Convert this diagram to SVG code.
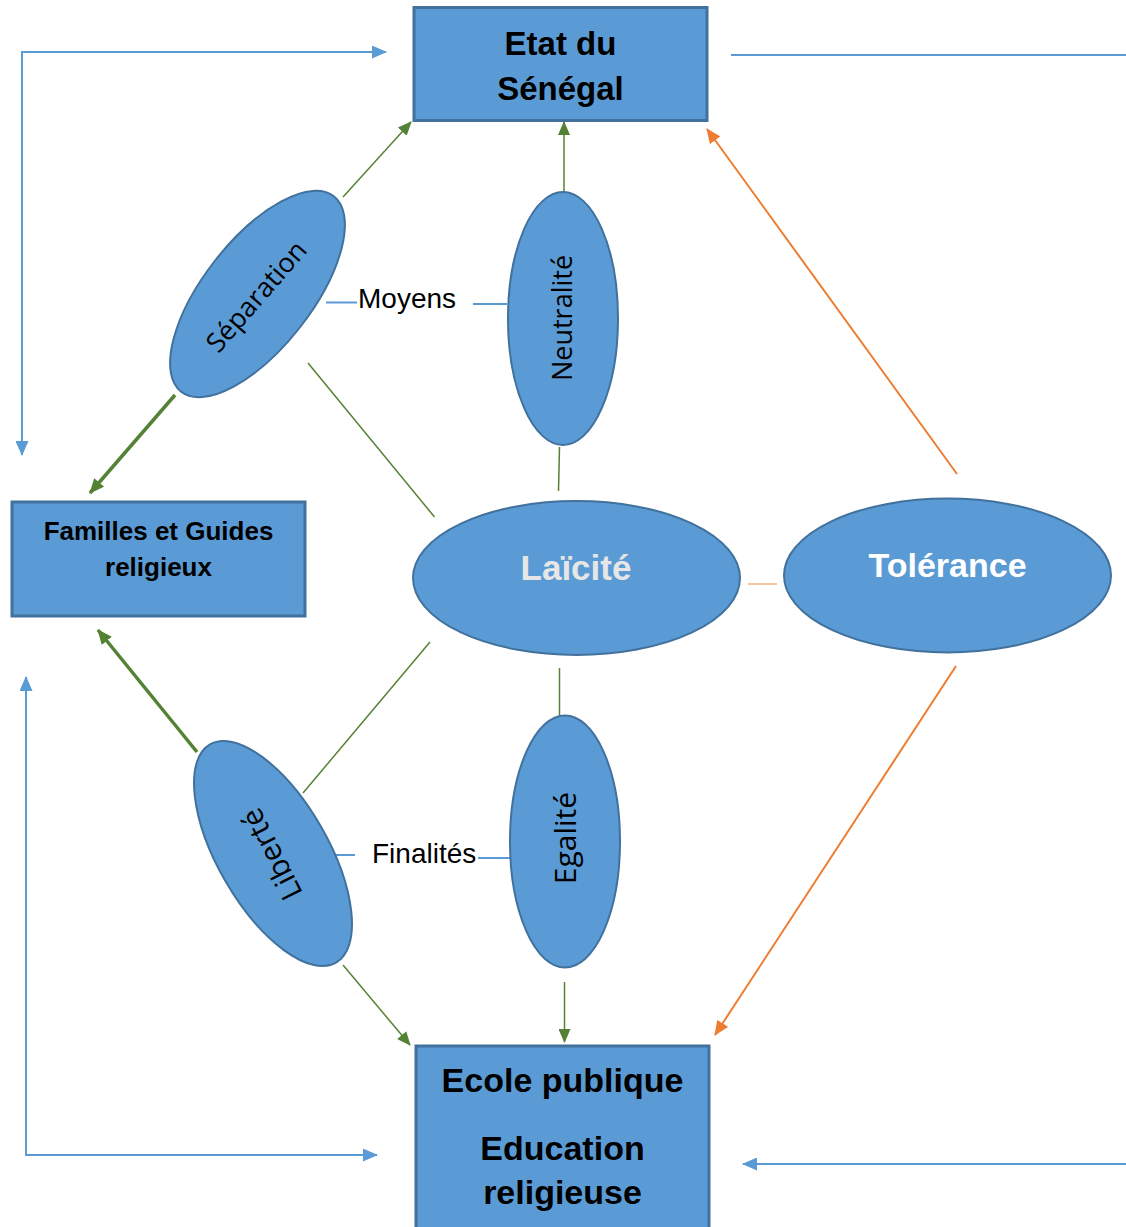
<svg xmlns="http://www.w3.org/2000/svg" width="1126" height="1227" viewBox="0 0 1126 1227">
<defs>
<style>
.box{fill:#5B9BD5;stroke:#41719C;stroke-width:3}
.ell{fill:#5B9BD5;stroke:#41719C;stroke-width:2}
.bt{font-family:"Liberation Sans",Arial,sans-serif;font-weight:bold;fill:#000;text-anchor:middle}
.et{font-family:"Open Sans","Liberation Sans",sans-serif;font-size:27px;fill:#000;text-anchor:middle}
.lbl{font-family:"Liberation Sans",Arial,sans-serif;font-size:28px;fill:#000}
.g{stroke:#548235;stroke-width:1.5;fill:none}
.gt{stroke:#548235;stroke-width:3.5;fill:none}
.o{stroke:#ED7D31;stroke-width:2;fill:none}
.b{stroke:#5B9BD5;stroke-width:2;fill:none}
</style>
<marker id="ag" markerUnits="userSpaceOnUse" markerWidth="14" markerHeight="12" refX="13" refY="6" orient="auto"><path d="M0,0 L14,6 L0,12 Z" fill="#548235"/></marker>
<marker id="agt" markerUnits="userSpaceOnUse" markerWidth="15" markerHeight="13" refX="14" refY="6.5" orient="auto"><path d="M0,0 L15,6.5 L0,13 Z" fill="#548235"/></marker>
<marker id="ao" markerUnits="userSpaceOnUse" markerWidth="15" markerHeight="13" refX="14" refY="6.5" orient="auto"><path d="M0,0 L15,6.5 L0,13 Z" fill="#ED7D31"/></marker>
<marker id="ab" markerUnits="userSpaceOnUse" markerWidth="15" markerHeight="13" refX="14" refY="6.5" orient="auto-start-reverse"><path d="M0,0 L15,6.5 L0,13 Z" fill="#5B9BD5"/></marker>
</defs>
<rect width="1126" height="1227" fill="#fff"/>
<g id="connectors">
<path class="b" d="M22,455 V52 H386" marker-start="url(#ab)" marker-end="url(#ab)"/>
<path class="b" d="M731,55 H1126"/>
<path class="b" d="M26,677 V1155 H377" marker-start="url(#ab)" marker-end="url(#ab)"/>
<path class="b" d="M1126,1164 H743" marker-end="url(#ab)"/>
<path class="b" stroke-width="1.3" d="M326,302.5 H357"/>
<path class="b" stroke-width="1.3" d="M473,304 H507"/>
<path class="b" stroke-width="1.3" d="M335,855 H355"/>
<path class="b" stroke-width="1.3" d="M478,858 H510"/>
<path class="g" d="M343,197 L411,122" marker-end="url(#ag)"/>
<path class="g" d="M564,192 V122" marker-end="url(#ag)"/>
<path class="g" d="M343,965 L410,1045" marker-end="url(#ag)"/>
<path class="g" d="M564.5,982 V1042" marker-end="url(#ag)"/>
<path class="g" d="M308,363 L434.5,517"/>
<path class="g" d="M430,642 L303,793"/>
<path class="g" d="M559.5,447 L558.5,491"/>
<path class="g" stroke="#4E5D45" d="M559.5,668 V715"/>
<path class="gt" d="M175,395 L90,493" marker-end="url(#agt)"/>
<path class="gt" d="M197,752 L98,630" marker-end="url(#agt)"/>
<path class="o" d="M957,474 L707,129" marker-end="url(#ao)"/>
<path class="o" d="M956,666 L715,1035" marker-end="url(#ao)"/>
<path stroke="#F4B183" stroke-width="1.5" d="M748,584 H777"/>
</g>
<g id="etat">
<rect class="box" x="414" y="7.5" width="293" height="113"/>
<text class="bt" font-size="33" x="560.5" y="55">Etat du</text>
<text class="bt" font-size="33" x="560.5" y="100">Sénégal</text>
</g>
<g id="familles">
<rect class="box" x="12" y="502" width="293" height="114"/>
<text class="bt" font-size="26" x="158.5" y="540">Familles et Guides</text>
<text class="bt" font-size="26" x="158.5" y="576">religieux</text>
</g>
<g id="ecole">
<rect class="box" x="416" y="1046" width="293" height="190"/>
<text class="bt" font-size="34" x="562.5" y="1092">Ecole publique</text>
<text class="bt" font-size="34" x="562.5" y="1160">Education</text>
<text class="bt" font-size="34" x="562.5" y="1204">religieuse</text>
</g>
<g id="laicite">
<ellipse class="ell" cx="576.5" cy="578" rx="163.5" ry="77"/>
<text class="bt" font-size="35" style="fill:#E7E6E6" x="576" y="580">Laïcité</text>
</g>
<g id="tolerance">
<ellipse class="ell" cx="947.5" cy="575.5" rx="163.5" ry="77"/>
<text class="bt" font-size="34" style="fill:#fff" x="947.5" y="577">Tolérance</text>
</g>
<g id="neutralite">
<ellipse class="ell" cx="563" cy="318.5" rx="55" ry="126.5"/>
<text class="et" transform="translate(572,318) rotate(-90)" x="0" y="0">Neutralité</text>
</g>
<g id="egalite">
<ellipse class="ell" cx="565" cy="841.5" rx="55" ry="126"/>
<text class="et" font-size="30" style="font-size:30px" transform="translate(576,838) rotate(-90)" x="0" y="0">Egalité</text>
</g>
<g id="separation">
<ellipse class="ell" transform="translate(257.5,294) rotate(-52)" cx="0" cy="0" rx="124" ry="54"/>
<text class="et" transform="translate(256.7,296.7) rotate(-49)" x="0" y="9">Séparation</text>
</g>
<g id="liberte">
<ellipse class="ell" transform="translate(273,853.5) rotate(60)" cx="0" cy="0" rx="126" ry="55"/>
<text class="et" style="font-size:30px" transform="translate(272,854) rotate(-117)" x="0" y="10">Liberté</text>
</g>
<g id="labels">
<text class="lbl" x="358" y="308">Moyens</text>
<text class="lbl" x="372" y="863">Finalités</text>
</g>
</svg>
